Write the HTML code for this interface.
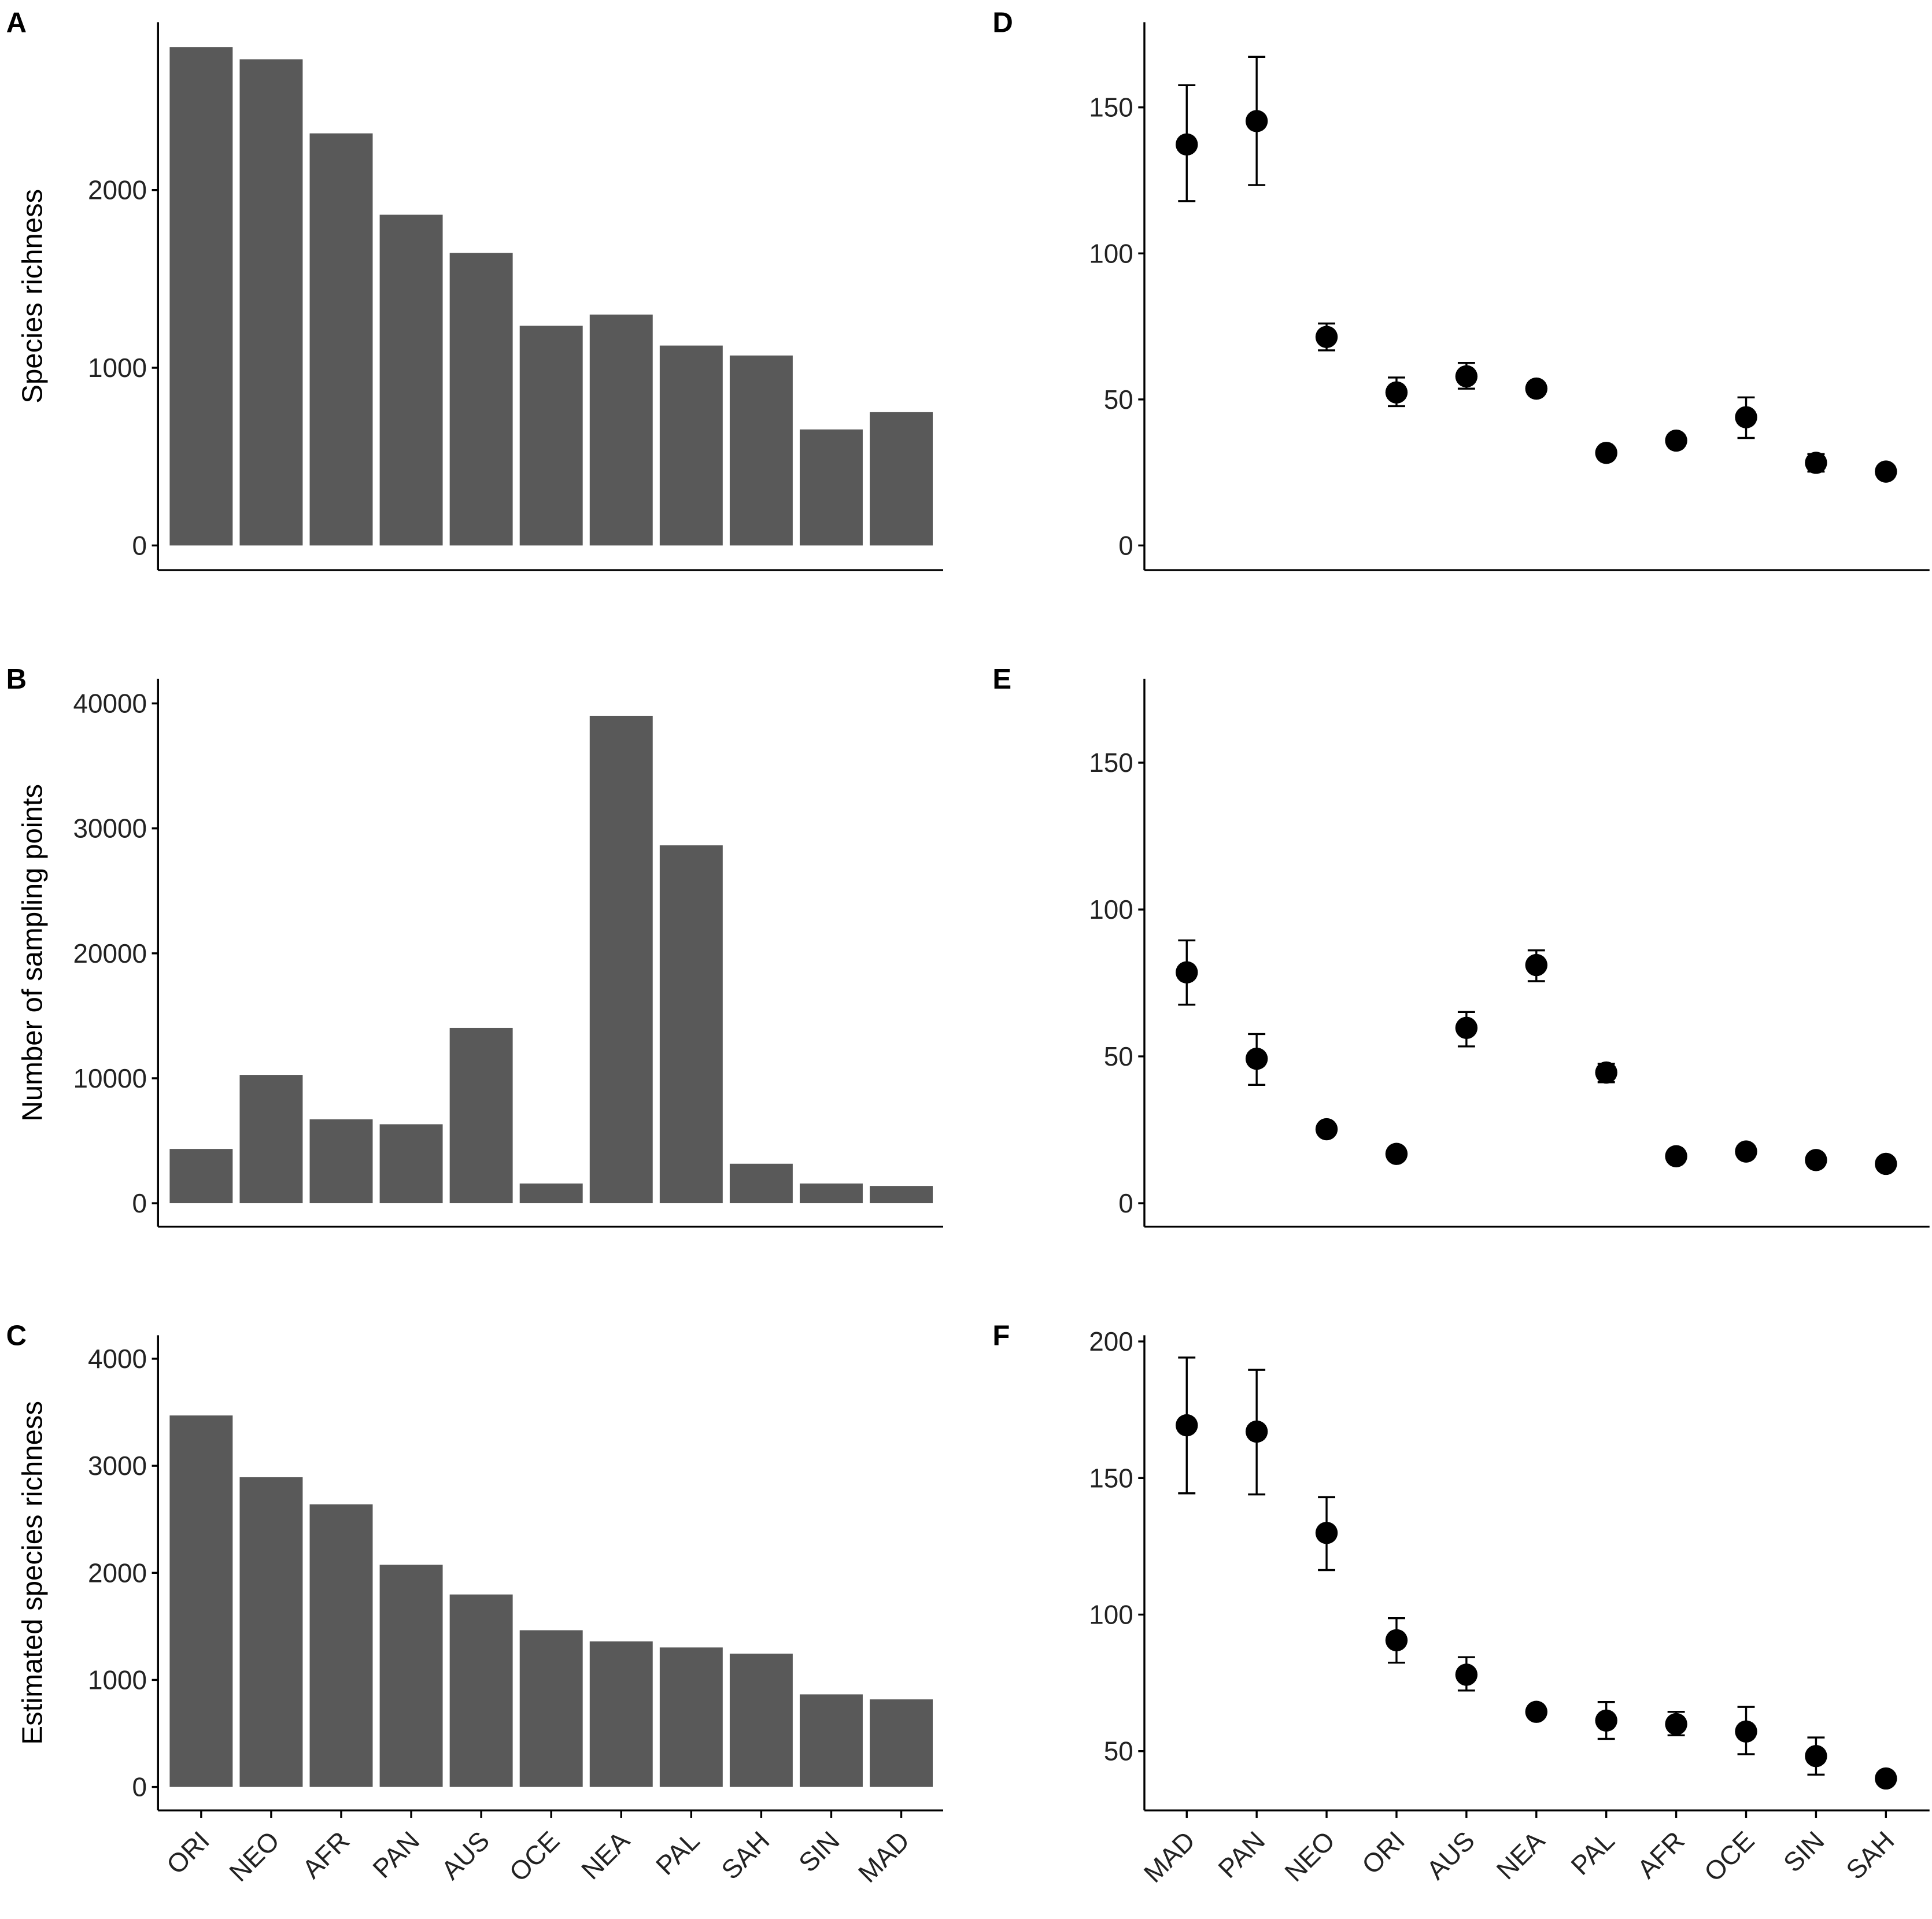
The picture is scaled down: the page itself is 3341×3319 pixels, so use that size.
<!DOCTYPE html>
<html><head><meta charset="utf-8"><style>
html,body{margin:0;padding:0;background:#fff;}
svg{display:block;font-family:"Liberation Sans",Arial,sans-serif;}
</style></head><body>
<svg id="fig" width="3341" height="3319" viewBox="0 0 1565 1555" preserveAspectRatio="none" xmlns="http://www.w3.org/2000/svg"></svg>
<script>
const catsLeft = ["ORI","NEO","AFR","PAN","AUS","OCE","NEA","PAL","SAH","SIN","MAD"];
const catsRight = ["MAD","PAN","NEO","ORI","AUS","NEA","PAL","AFR","OCE","SIN","SAH"];
const richness = [2805,2736,2319,1861,1646,1236,1299,1125,1069,653,750];
const sampling = [4346,10270,6716,6321,14025,1580,39012,28642,3160,1580,1383];
const estRichness = [3470,2893,2640,2075,1798,1464,1360,1303,1245,865,818];
const dVal = [137.3,145.3,71.4,52.4,57.9,53.7,31.7,35.9,43.9,28.3,25.3];
const dHi  = [157.6,167.3,76,57.5,62.5,55.5,33,37.5,50.7,31.3,26.5];
const dLo  = [117.9,123.4,66.8,47.7,53.7,52,30.5,34.3,36.8,25.3,24.2];
const eVal = [78.6,49.2,25.2,16.8,59.7,81.1,44.5,16,17.6,14.7,13.4];
const eHi  = [89.5,57.6,26,17.6,65.1,86.1,47.5,16.8,18.4,15.5,14.2];
const eLo  = [67.6,40.3,24.4,16,53.4,75.6,41.2,15.2,16.8,13.9,12.6];
const fVal = [169.3,167,129.9,90.6,78,64.4,61.2,59.9,57.2,48.2,40];
const fHi  = [194.1,189.6,143,98.7,84.4,66.5,68,64.4,66.2,55,41.5];
const fLo  = [144.4,144,116.3,82.4,72.2,62.3,54.5,55.8,48.9,41.4,38.5];
const ticksA = [0,1000,2000];
const ticksB = [0,10000,20000,30000,40000];
const ticksC = [0,1000,2000,3000,4000];
const ticksD = [0,50,100,150];
const ticksF = [50,100,150,200];

const NS="http://www.w3.org/2000/svg";
const svg=document.getElementById('fig');
function mk(tag,attrs,parent){const e=document.createElementNS(NS,tag);for(const k in attrs)e.setAttribute(k,attrs[k]);(parent||svg).appendChild(e);return e;}

function panel(o){
  const g=mk('g',{});
  
  
  const y=v=>o.y0+(v-o.v0)*(o.y1-o.y0)/(o.v1-o.v0);
  const bw=(o.xr-o.xl)/o.cats.length;
  const xc=i=>o.xl+bw*(i+0.5);
  const L=mk('text',{x:o.ax-123,y:o.top+8,'font-size':23,'font-weight':'bold'},g);L.textContent=o.letter;
  
  
  if(o.bars){
    o.vals.forEach((v,i)=>{
      const r=mk('rect',{x:xc(i)-bw*0.45,y:y(v),width:bw*0.9,height:y(0)-y(v),fill:'#595959'},g);
      
      
    });
  } else {
    o.vals.forEach((v,i)=>{
      const x=xc(i);
      const eb=mk('path',{d:`M${x-7},${y(o.hi[i])}H${x+7}M${x},${y(o.hi[i])}V${y(o.lo[i])}M${x-7},${y(o.lo[i])}H${x+7}`,stroke:'#000','stroke-width':1.6,fill:'none'},g);
      
      
      const c=mk('circle',{cx:x,cy:y(v),r:9,fill:'#000'},g);
      
      
    });
  }
  const ya=mk('line',{x1:o.ax,y1:o.top,x2:o.ax,y2:o.bot,stroke:'#000','stroke-width':1.6},g);
  
  
  const xa=mk('line',{x1:o.ax,y1:o.bot,x2:o.ax+636,y2:o.bot,stroke:'#000','stroke-width':1.6},g);
  
  
  o.ticks.forEach(t=>{
    mk('line',{x1:o.ax-5,x2:o.ax,y1:y(t),y2:y(t),stroke:'#000','stroke-width':1.6},g);
    const tx=mk('text',{x:o.ax-9,y:y(t)+7.5,'font-size':21.5,'text-anchor':'end',fill:'#222'},g);
    tx.textContent=t;
    
    
  });
  if(o.xlabels){
    o.cats.forEach((c,i)=>{
      mk('line',{x1:xc(i),x2:xc(i),y1:o.bot,y2:o.bot+6,stroke:'#000','stroke-width':1.6},g);
      const x=xc(i)+8,yy=o.bot+26;
      const tx=mk('text',{x:x,y:yy,'font-size':21.5,'text-anchor':'end',fill:'#222',transform:`rotate(-45 ${x} ${yy})`},g);
      tx.textContent=c;
      
      
    });
  }
  if(o.title){
    const cy=(o.top+o.bot)/2;
    const tt=mk('text',{x:34,y:cy,'font-size':23,'text-anchor':'middle',transform:`rotate(-90 34 ${cy})`},g);
    tt.textContent=o.title;
    
    
  }
}
const L0=134.6,L1=758.4,R0=933,R1=1556;
panel({letter:'A',cats:catsLeft,vals:richness,bars:true,ax:128,top:18,bot:462,xl:L0,xr:L1,v0:0,y0:442,v1:2000,y1:154,ticks:ticksA,title:'Species richness'});
panel({letter:'B',cats:catsLeft,vals:sampling,bars:true,ax:128,top:550,bot:994,xl:L0,xr:L1,v0:0,y0:975,v1:40000,y1:570,ticks:ticksB,title:'Number of sampling points'});
panel({letter:'C',cats:catsLeft,vals:estRichness,bars:true,ax:128,top:1082,bot:1467,xl:L0,xr:L1,v0:0,y0:1448,v1:4000,y1:1101,ticks:ticksC,title:'Estimated species richness',xlabels:true});
panel({letter:'D',cats:catsRight,vals:dVal,hi:dHi,lo:dLo,ax:927,top:18,bot:462,xl:R0,xr:R1,v0:0,y0:442,v1:150,y1:87,ticks:ticksD});
panel({letter:'E',cats:catsRight,vals:eVal,hi:eHi,lo:eLo,ax:927,top:550,bot:994,xl:R0,xr:R1,v0:0,y0:975,v1:150,y1:618,ticks:ticksD});
panel({letter:'F',cats:catsRight,vals:fVal,hi:fHi,lo:fLo,ax:927,top:1082,bot:1467,xl:R0,xr:R1,v0:50,y0:1419,v1:200,y1:1087,ticks:ticksF,xlabels:true});
</script>
</body></html>
